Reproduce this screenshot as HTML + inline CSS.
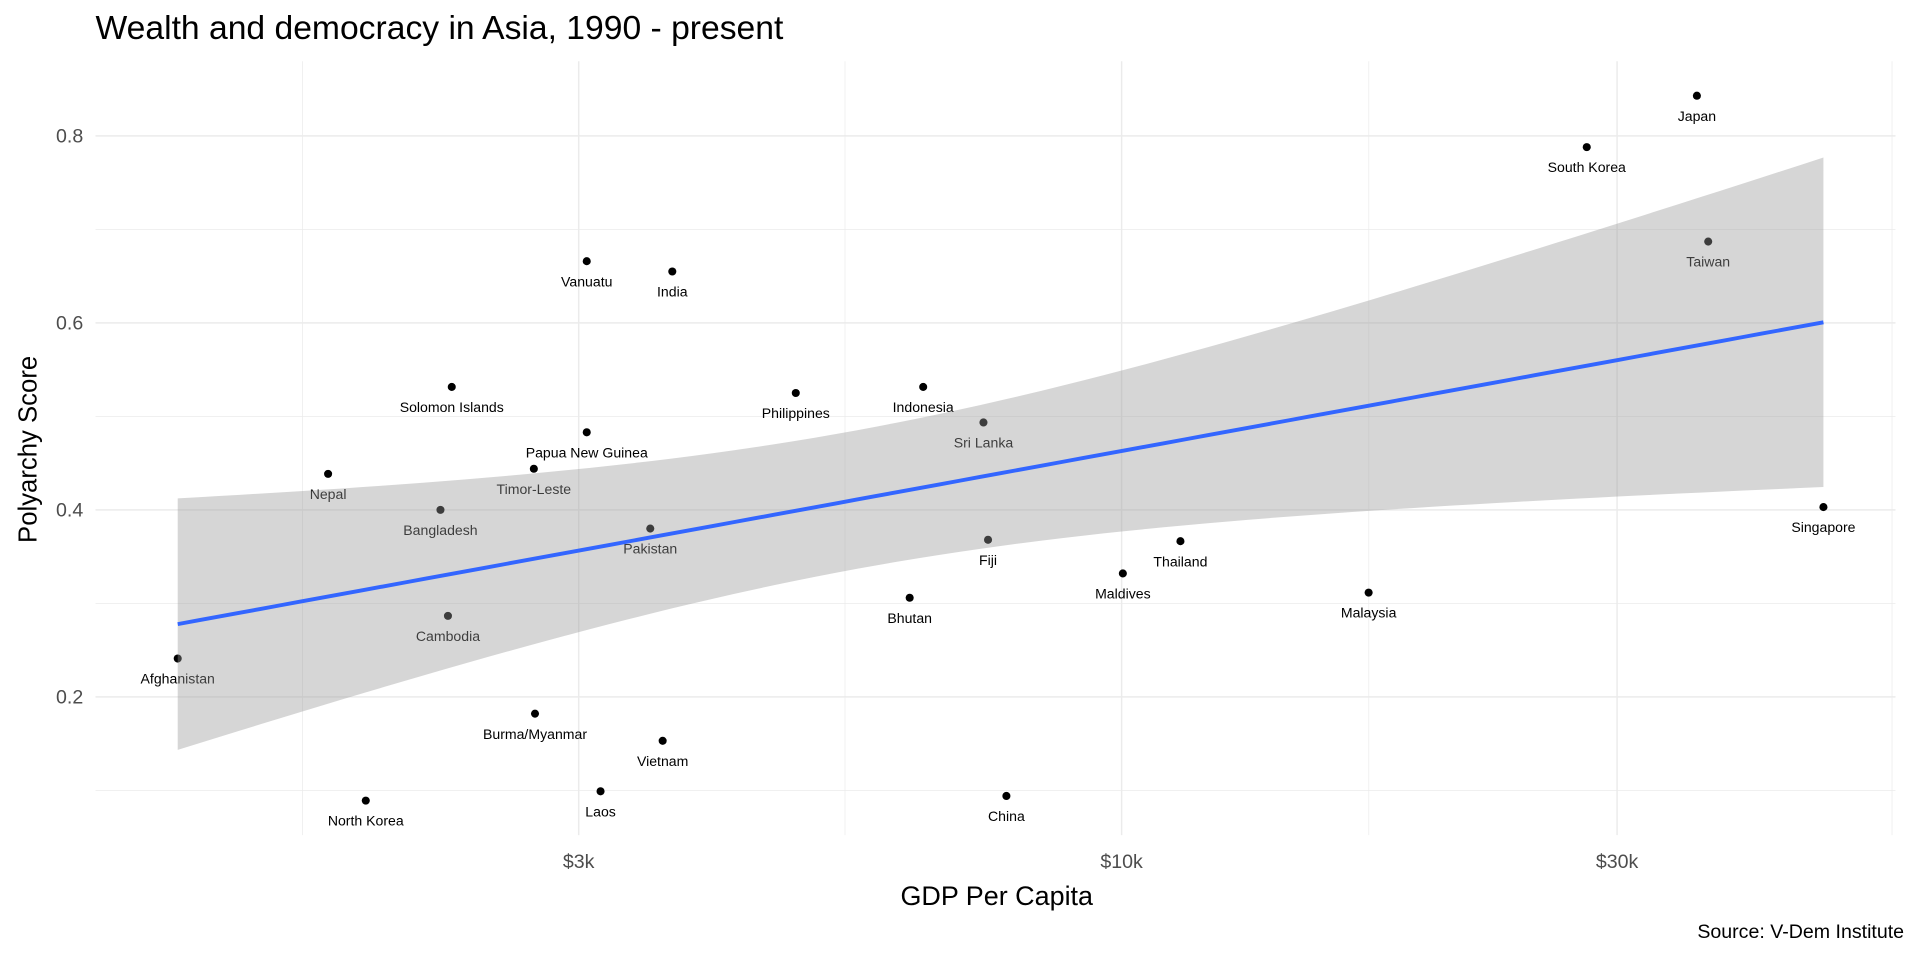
<!DOCTYPE html>
<html><head><meta charset="utf-8">
<style>
html,body{margin:0;padding:0;background:#fff;}
svg{display:block;font-family:"Liberation Sans",Arial,sans-serif;}
</style></head>
<body>
<svg id="chart" width="1920" height="960" viewBox="0 0 1568 784" preserveAspectRatio="none" xmlns="http://www.w3.org/2000/svg">
<rect x="0" y="0" width="1568" height="784" fill="#fff"/>
<g id="grid"></g>
<g id="points"></g>
<g id="band"></g>
<g id="axes"></g>
<text x="78" y="32" font-size="27.5" fill="#000">Wealth and democracy in Asia, 1990 - present</text>
<text x="814" y="739" font-size="22" text-anchor="middle" fill="#000">GDP Per Capita</text>
<text transform="translate(30,367) rotate(-90)" font-size="21" text-anchor="middle" fill="#000">Polyarchy Score</text>
<text x="1555" y="766" font-size="16" text-anchor="end" fill="#000">Source: V-Dem Institute</text>
</svg>
<script>
const countries = ["Afghanistan","Nepal","Bangladesh","Solomon Islands","Cambodia","North Korea","Burma/Myanmar","Timor-Leste","Papua New Guinea","Vanuatu","India","Laos","Pakistan","Vietnam","Philippines","Indonesia","Bhutan","Sri Lanka","Fiji","China","Maldives","Thailand","Malaysia","South Korea","Japan","Taiwan","Singapore"];
const gdp = [1233,1721,2208,2264,2245,1871,2723,2716,3054,3054,3692,3149,3516,3614,4855,6440,6250,7361,7436,7745,10027,11393,17293,28050,35810,36720,47410];
const polyarchy = [0.241,0.4385,0.400,0.5315,0.2866,0.089,0.182,0.444,0.483,0.666,0.655,0.099,0.380,0.153,0.525,0.5315,0.306,0.4935,0.368,0.094,0.332,0.3665,0.3115,0.788,0.843,0.687,0.403];
const xTicks = [3000,10000,30000];
const xTickLabels = ["$3k","$10k","$30k"];
const xMinorTicks = [1626,5415,17300,55200];
const yTicks = [0.2,0.4,0.6,0.8];
const yTickLabels = ["0.2","0.4","0.6","0.8"];
const yMinorTicks = [0.1,0.3,0.5,0.7];

const NS="http://www.w3.org/2000/svg";
const PL=78, PR=1548, PT=50, PB=682;
function xs(g){return 916+848*(Math.log10(g)-4);}
function ys(v){return 111+(0.8-v)*763.5;}
function mk(tag,attrs,parent){const e=document.createElementNS(NS,tag);for(const k in attrs)e.setAttribute(k,attrs[k]);parent.appendChild(e);return e;}
const grid=document.getElementById('grid'), pts=document.getElementById('points'), band=document.getElementById('band'), axes=document.getElementById('axes');

for(const v of yMinorTicks){
  const l=mk('line',{x1:PL,x2:PR,y1:ys(v),y2:ys(v),stroke:'#ebebeb','stroke-width':0.6},grid);
  
  
}
for(const g of xMinorTicks){
  const x=xs(g);
  const l=mk('line',{x1:x,x2:x,y1:PT,y2:PB,stroke:'#ebebeb','stroke-width':0.6},grid);
  
  
}
yTicks.forEach((v,i)=>{
  const l=mk('line',{x1:PL,x2:PR,y1:ys(v),y2:ys(v),stroke:'#ebebeb','stroke-width':1.2},grid);
  
  
  const t=mk('text',{x:68,y:ys(v)+5.5,'font-size':16,'text-anchor':'end',fill:'#4d4d4d'},axes);
  t.textContent=yTickLabels[i];
  
  
});
xTicks.forEach((g,i)=>{
  const x=xs(g);
  const l=mk('line',{x1:x,x2:x,y1:PT,y2:PB,stroke:'#ebebeb','stroke-width':1.2},grid);
  
  
  const t=mk('text',{x:x,y:709,'font-size':16,'text-anchor':'middle',fill:'#4d4d4d'},axes);
  t.textContent=xTickLabels[i];
  
  
});
countries.forEach((c,i)=>{
  const x=xs(gdp[i]), y=ys(polyarchy[i]);
  const p=mk('circle',{cx:x,cy:y,r:3.3,fill:'#000'},pts);
  
  
  const t=mk('text',{x:x,y:y+20.5,'font-size':11.5,'text-anchor':'middle',fill:'#000'},pts);
  t.textContent=c;
  
  
});
const lx=gdp.map(g=>Math.log10(g)), n=lx.length;
const mx=lx.reduce((a,b)=>a+b)/n, my=polyarchy.reduce((a,b)=>a+b)/n;
let sxx=0,sxy=0;for(let i=0;i<n;i++){sxx+=(lx[i]-mx)**2;sxy+=(lx[i]-mx)*(polyarchy[i]-my);}
const b=sxy/sxx, a=my-b*mx;
let sse=0;for(let i=0;i<n;i++){sse+=(polyarchy[i]-a-b*lx[i])**2;}
const s=Math.sqrt(sse/(n-2)), tq=2.06;
const x0=Math.min(...lx), x1=Math.max(...lx);
const up=[],lo=[],mid=[];
for(let k=0;k<=80;k++){
  const xv=x0+(x1-x0)*k/80, yh=a+b*xv, se=s*Math.sqrt(1/n+(xv-mx)**2/sxx);
  const px=xs(Math.pow(10,xv));
  up.push(px+','+ys(yh+tq*se)); lo.unshift(px+','+ys(yh-tq*se)); mid.push(px+','+ys(yh));
}
const poly=mk('polygon',{points:up.concat(lo).join(' '),fill:'#999999','fill-opacity':0.4},band);


const line=mk('polyline',{points:mid.join(' '),fill:'none',stroke:'#3366FF','stroke-width':3.2},band);


</script>
</body></html>
